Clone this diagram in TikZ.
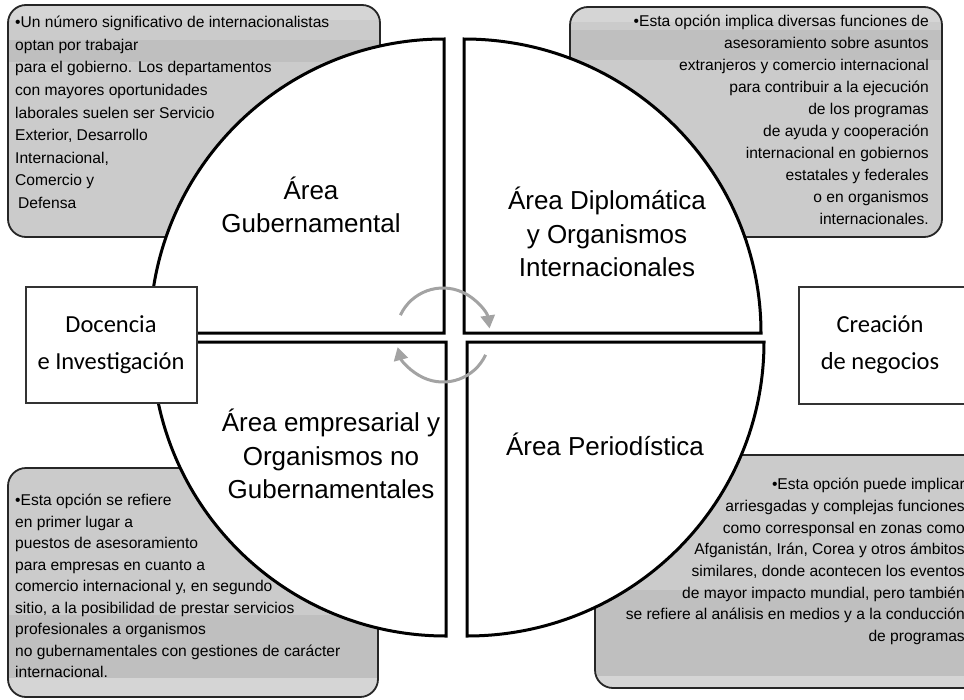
\documentclass[tikz,border=0pt]{standalone}
\usepackage{fontspec}
\setmainfont{Liberation Sans}
\newfontfamily\calfont{Carlito}
\usetikzlibrary{arrows.meta}
\definecolor{boxgray}{HTML}{CBCBCB}
\definecolor{banddark}{HTML}{BFBFBF}
\definecolor{bandlight}{HTML}{D5D5D5}
\definecolor{arrowgray}{HTML}{A3A3A3}
\begin{document}
\begin{tikzpicture}[x=1pt,y=-1pt,
  infobox/.style={draw=black!85,line width=1.8pt,rounded corners=18pt},
  quad/.style={draw=black,line width=3pt,fill=white,line join=miter},
  sidebox/.style={draw=black!80,line width=1.3pt,fill=white},
  infotext/.style={inner sep=0pt},
  quadlabel/.style={align=center,inner sep=0pt,font=\fontsize{26}{33.5}\selectfont},
  sidelabel/.style={align=center,inner sep=0pt,font=\calfont\fontsize{24.5}{37}\selectfont},
  cyc/.style={draw=arrowgray,line width=3pt,-{Triangle[length=13pt,width=14pt]}}
]
\useasboundingbox (0,0) rectangle (964,699);
\fill[white] (0,0) rectangle (964,699);

% grey information boxes (with faint horizontal bands)
\begin{scope}
  \clip[rounded corners=18pt] (8,5) rectangle (380,237);
  \fill[boxgray] (8,5) rectangle (380,237);
  \fill[bandlight] (8,5) rectangle (380,20);
  \fill[banddark] (8,40) rectangle (380,62);
\end{scope}
\draw[infobox] (8,5) rectangle (380,237);
\begin{scope}
  \clip[rounded corners=18pt] (570,7) rectangle (942,237);
  \fill[boxgray] (570,7) rectangle (942,237);
  \fill[bandlight] (570,7) rectangle (942,22);
  \fill[banddark] (570,30) rectangle (942,60);
\end{scope}
\draw[infobox] (570,7) rectangle (942,237);
\begin{scope}
  \clip[rounded corners=18pt] (8,468) rectangle (378,697);
  \fill[boxgray] (8,468) rectangle (378,697);
  \fill[banddark] (8,615) rectangle (378,678);
  \fill[bandlight] (8,678) rectangle (378,697);
\end{scope}
\draw[infobox] (8,468) rectangle (378,697);
\begin{scope}
  \clip[rounded corners=18pt] (595,455) rectangle (990,688);
  \fill[boxgray] (595,455) rectangle (990,688);
  \fill[banddark] (595,590) rectangle (990,676);
  \fill[bandlight] (595,676) rectangle (990,688);
\end{scope}
\draw[infobox] (595,455) rectangle (990,688);

\node[infotext,align=left,anchor=north west,font=\fontsize{15.6}{22.6}\selectfont] (tltext) at (15,16)
 {•Un número significativo de internacionalistas\\optan por trabajar\\para el gobierno. Los departamentos\\con mayores oportunidades\\laborales suelen ser Servicio\\Exterior, Desarrollo\\Internacional,\\Comercio y\\\hspace*{3pt}Defensa};
\node[infotext,align=right,anchor=north east,font=\fontsize{15.6}{22}\selectfont] (trtext) at (929,15)
 {•Esta opción implica diversas funciones de\\asesoramiento sobre asuntos\\extranjeros y comercio internacional\\para contribuir a la ejecución\\de los programas\\de ayuda y cooperación\\internacional en gobiernos\\estatales y federales\\o en organismos\\internacionales.};
\node[infotext,align=left,anchor=north west,font=\fontsize{15.6}{21.5}\selectfont] (bltext) at (15,494)
 {•Esta opción se refiere\\en primer lugar a\\puestos de asesoramiento\\para empresas en cuanto a\\comercio internacional y, en segundo\\sitio, a la posibilidad de prestar servicios\\profesionales a organismos\\no gubernamentales con gestiones de carácter\\internacional.};
\node[infotext,align=right,anchor=north east,font=\fontsize{15.6}{21.7}\selectfont] (brtext) at (965,478)
 {•Esta opción puede implicar\\arriesgadas y complejas funciones\\como corresponsal en zonas como\\Afganistán, Irán, Corea y otros ámbitos\\similares, donde acontecen los eventos\\de mayor impacto mundial, pero también\\se refiere al análisis en medios y a la conducción\\de programas};

% four quadrants of the circle
\draw[quad] (444,333) -- (150,333) arc[start angle=180,end angle=270,radius=294] -- cycle;
\draw[quad] (464,333) -- (464,39) arc[start angle=270,end angle=360,x radius=297,y radius=294] -- cycle;
\draw[quad] (446,342) -- (152,342) arc[start angle=180,end angle=90,radius=294] -- cycle;
\draw[quad] (467,342) -- (764,342) arc[start angle=0,end angle=90,x radius=297,y radius=294] -- cycle;

\node[quadlabel] (gub) at (311,205) {Área\\Gubernamental};
\node[quadlabel] (dip) at (607,232) {Área Diplomática\\y Organismos\\Internacionales};
\node[quadlabel] (emp) at (331,454) {Área empresarial y\\Organismos no\\Gubernamentales};
\node[quadlabel] (per) at (605,444) {Área Periodística};

% cycle arrows in the centre
\coordinate (mid) at (443,335);
\draw[cyc] (mid) ++(-155:47) arc[start angle=-155,end angle=-8,radius=47];
\draw[cyc] (mid) ++(25:47) arc[start angle=25,end angle=165,radius=47];

% side boxes
\draw[sidebox] (26,287) rectangle (197,403);
\node[sidelabel] (doc) at (111,345) {Docencia\\e Investigación};
\draw[sidebox] (799,287) rectangle (990,404);
\node[sidelabel] (neg) at (880,345) {Creación\\de negocios};
\end{tikzpicture}
\end{document}
